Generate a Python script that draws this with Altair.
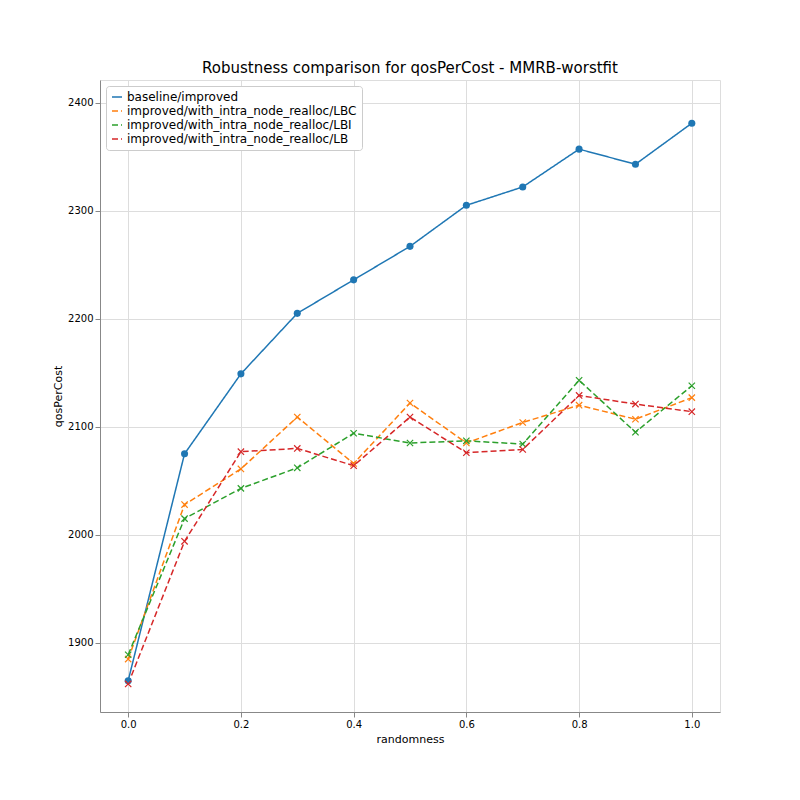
import altair as alt
import pandas as pd

randomness = [0.0, 0.1, 0.2, 0.3, 0.4, 0.5, 0.6, 0.7, 0.8, 0.9, 1.0]
series_names = [
    "baseline/improved",
    "improved/with_intra_node_realloc/LBC",
    "improved/with_intra_node_realloc/LBI",
    "improved/with_intra_node_realloc/LB",
]
baseline = [1865, 2075, 2149, 2205, 2236, 2267, 2305, 2322, 2357, 2343, 2381]
lbc = [1885, 2028, 2061, 2109, 2066, 2122, 2085, 2104, 2120, 2107, 2127]
lbi = [1889, 2015, 2043, 2062, 2094, 2085, 2087, 2084, 2143, 2095, 2138]
lb = [1862, 1994, 2077, 2080, 2064, 2109, 2076, 2079, 2129, 2121, 2114]
colors = ["#1f77b4", "#ff7f0e", "#2ca02c", "#d62728"]

rows = []
for name, vals in zip(series_names, [baseline, lbc, lbi, lb]):
    for r, v in zip(randomness, vals):
        rows.append({"randomness": r, "qosPerCost": v, "series": name})
df = pd.DataFrame(rows)

x = alt.X("randomness:Q",
          scale=alt.Scale(domain=[-0.05, 1.05], nice=False, zero=False),
          axis=alt.Axis(title="randomness", titleFontWeight="normal",
                        values=[0, 0.2, 0.4, 0.6, 0.8, 1.0], format=".1f"))
y = alt.Y("qosPerCost:Q",
          scale=alt.Scale(domain=[1836, 2421], nice=False, zero=False),
          axis=alt.Axis(title="qosPerCost", titleFontWeight="normal",
                        values=[1900, 2000, 2100, 2200, 2300, 2400], format="d"))
color_scale = alt.Scale(domain=series_names, range=colors)

lines = alt.Chart(df).mark_line(strokeWidth=1.5).encode(
    x=x, y=y,
    color=alt.Color("series:N", scale=color_scale, sort=series_names,
                    legend=alt.Legend(title=None, orient="top-left", symbolType="stroke",
                                      symbolStrokeWidth=1.5, labelFontSize=12, labelLimit=0,
                                      strokeColor="#cccccc", fillColor="white",
                                      padding=5, cornerRadius=3, offset=6)),
    strokeDash=alt.StrokeDash("series:N", sort=series_names,
                              scale=alt.Scale(domain=series_names,
                                              range=[[1, 0], [6, 3], [6, 3], [6, 3]]),
                              legend=None),
)

circles = alt.Chart(df[df.series == series_names[0]]).mark_point(
    filled=True, size=50, opacity=1, color=colors[0]
).encode(x=x, y=y)

crosses = alt.Chart(df[df.series != series_names[0]]).mark_point(
    shape="M-1,-1L1,1M1,-1L-1,1", size=40, filled=False, opacity=1, strokeWidth=1.2
).encode(x=x, y=y, color=alt.Color("series:N", scale=color_scale, legend=None))

chart = (lines + circles + crosses).properties(
    width=620, height=632,
    title=alt.Title("Robustness comparison for qosPerCost - MMRB-worstfit", fontSize=15,
                    fontWeight="normal"),
    autosize=alt.AutoSizeParams(type="none"),
    padding={"left": 92, "top": 72, "right": 72, "bottom": 80},
).configure_axis(
    grid=True, gridColor="#b0b0b0", gridOpacity=1, labelFontSize=12, titleFontSize=12,
    domainColor="black", tickColor="black", labelColor="black"
).configure_view(stroke="black").configure(font="DejaVu Sans")

chart.save("out.html", embed_options={"renderer": "svg", "actions": False})
